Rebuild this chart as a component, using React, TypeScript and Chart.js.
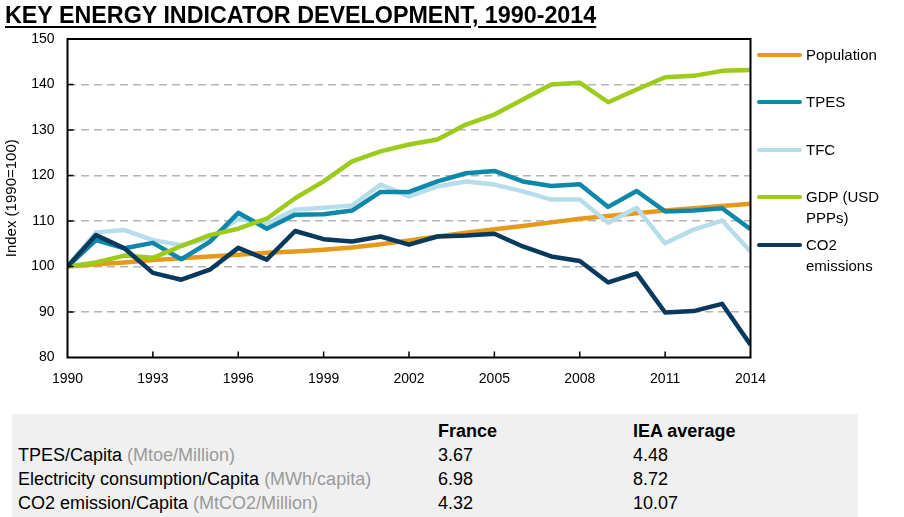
import React, { useEffect, useRef } from "react";
import { Chart, registerables } from "chart.js";

Chart.register(...registerables);

const years = [1990, 1991, 1992, 1993, 1994, 1995, 1996, 1997, 1998, 1999, 2000, 2001, 2002, 2003, 2004, 2005, 2006, 2007, 2008, 2009, 2010, 2011, 2012, 2013, 2014];

const population = [100, 100.5, 100.9, 101.4, 101.8, 102.2, 102.6, 103.0, 103.3, 103.7, 104.2, 104.9, 105.7, 106.6, 107.4, 108.2, 108.9, 109.7, 110.5, 111.1, 111.7, 112.3, 112.8, 113.3, 113.8];
const tpes = [100, 105.8, 104.0, 105.2, 101.6, 105.4, 111.8, 108.3, 111.4, 111.5, 112.3, 116.4, 116.4, 118.7, 120.5, 121.0, 118.7, 117.7, 118.1, 113.1, 116.6, 112.1, 112.3, 112.8, 108.2];
const tfc = [100, 107.5, 108.0, 105.8, 104.7, 106.2, 110.5, 109.4, 112.5, 112.9, 113.4, 118.0, 115.4, 117.6, 118.7, 118.0, 116.5, 114.7, 114.7, 109.6, 112.9, 105.1, 108.1, 110.1, 103.3];
const gdp = [100, 100.9, 102.4, 101.9, 104.5, 106.9, 108.3, 110.5, 115.0, 118.7, 123.1, 125.3, 126.8, 127.9, 131.2, 133.4, 136.7, 140.0, 140.4, 136.1, 138.9, 141.6, 141.9, 143.0, 143.2];
const co2 = [100, 106.9, 104.0, 98.6, 97.1, 99.3, 104.1, 101.5, 107.8, 106.0, 105.5, 106.6, 104.8, 106.6, 106.8, 107.2, 104.4, 102.2, 101.2, 96.5, 98.5, 89.9, 90.2, 91.8, 82.8];

const seriesNames = ["Population", "TPES", "TFC", "GDP (USD\nPPPs)", "CO2\nemissions"];
const seriesValues = [population, tpes, tfc, gdp, co2];
const seriesColors = ["#E59A1B", "#0E88A8", "#B7DDEA", "#9CCB19", "#083A5E"];
const seriesOrder = [4, 2, 3, 1, 0];

const xTickStart = 1990;
const xTickEnd = 2014;
const xTickStep = 3;
const yTickMin = 80;
const yTickMax = 150;
const yTickStep = 10;

const yAxisTitle = "Index (1990=100)";
const chartTitle = "KEY ENERGY INDICATOR DEVELOPMENT, 1990-2014";

const tableHeaders = ["France", "IEA average"];
const tableIndicators = ["TPES/Capita", "Electricity consumption/Capita", "CO2 emission/Capita"];
const tableUnits = ["(Mtoe/Million)", "(MWh/capita)", "(MtCO2/Million)"];
const franceValues = ["3.67", "6.98", "4.32"];
const ieaValues = ["4.48", "8.72", "10.07"];

const legendY = [55, 102, 150, 197, 245];
const tableColX = [438, 633];
const tableHeaderY = 431;
const tableRowY = [454.6, 478.8, 503.1];

const FONT = "'Liberation Sans', Arial, Helvetica, sans-serif";

const framePlugin = {
  id: "frame",
  afterDraw(chart: any) {
    const { ctx, chartArea: a, scales } = chart;
    ctx.save();
    ctx.strokeStyle = "#000";
    ctx.lineWidth = 1.5;
    ctx.beginPath();
    for (const t of scales.y.ticks) {
      if (t.value > scales.y.min && t.value < scales.y.max) {
        const y = scales.y.getPixelForValue(t.value);
        ctx.moveTo(a.left, y);
        ctx.lineTo(a.left + 6, y);
      }
    }
    for (const t of scales.x.ticks) {
      if (t.value > scales.x.min && t.value < scales.x.max) {
        const x = scales.x.getPixelForValue(t.value);
        ctx.moveTo(x, a.bottom);
        ctx.lineTo(x, a.bottom - 6);
      }
    }
    ctx.stroke();
    ctx.lineWidth = 2;
    ctx.strokeRect(a.left, a.top, a.right - a.left, a.bottom - a.top);
    ctx.restore();
  },
};

export default function App() {
  const canvasRef = useRef<HTMLCanvasElement | null>(null);

  useEffect(() => {
    if (!canvasRef.current) return;
    const chart = new Chart(canvasRef.current, {
      type: "line",
      data: {
        datasets: seriesNames.map((name, i) => ({
          label: name,
          data: years.map((yr, j) => ({ x: yr, y: seriesValues[i][j] })),
          borderColor: seriesColors[i],
          backgroundColor: seriesColors[i],
          borderWidth: 4.5,
          pointRadius: 0,
          tension: 0,
          borderJoinStyle: "round" as const,
          order: seriesOrder[i],
        })),
      },
      options: {
        responsive: false,
        animation: false,
        events: [],
        layout: { padding: { top: 39, right: 153.5, left: 0, bottom: 0 } },
        plugins: { legend: { display: false }, tooltip: { enabled: false }, title: { display: false } },
        scales: {
          x: {
            type: "linear",
            min: xTickStart,
            max: xTickEnd,
            afterFit: (s: any) => { s.height = 42.5; },
            afterBuildTicks: (s: any) => {
              const t = [];
              for (let v = xTickStart; v <= xTickEnd; v += xTickStep) t.push({ value: v });
              s.ticks = t;
            },
            ticks: {
              callback: (v: any) => String(v),
              font: { family: FONT, size: 14 },
              color: "#000",
              padding: 13,
              maxRotation: 0,
              autoSkip: false,
            },
            grid: { display: false, drawTicks: false },
            border: { display: false },
          },
          y: {
            min: yTickMin,
            max: yTickMax,
            afterFit: (s: any) => { s.width = 67.5; },
            ticks: {
              stepSize: yTickStep,
              font: { family: FONT, size: 14 },
              color: "#000",
              padding: 13,
            },
            grid: {
              drawTicks: false,
              lineWidth: 1.5,
              color: (c: any) => (c.tick && (c.tick.value === yTickMin || c.tick.value === yTickMax) ? "rgba(0,0,0,0)" : "#b4b4b4"),
            },
            border: { display: false, dash: [8, 5] },
            title: {
              display: true,
              text: yAxisTitle,
              font: { family: FONT, size: 15 },
              color: "#000",
              padding: { top: 3, bottom: 0 },
            },
          },
        },
      },
      plugins: [framePlugin],
    } as any);
    return () => chart.destroy();
  }, []);

  const cell = (top: number, left: number, extra: any = {}) => ({
    position: "absolute" as const,
    left,
    top: top - 10,
    fontSize: 18,
    lineHeight: "20px",
    whiteSpace: "nowrap" as const,
    ...extra,
  });

  return (
    <div style={{ position: "absolute", left: 0, top: 0, width: 904, height: 517, fontFamily: FONT, color: "#000", background: "#fff", overflow: "hidden" }}>
      <canvas ref={canvasRef} width={904} height={400} style={{ position: "absolute", left: 0, top: 0, width: 904, height: 400 }} />
      <div style={{ position: "absolute", left: 5, top: 4, fontSize: 23.3, lineHeight: "22.5px", fontWeight: "bold", whiteSpace: "nowrap", textDecoration: "underline", textDecorationThickness: "2px", textUnderlineOffset: "3px" }}>
        {chartTitle}
      </div>
      {seriesNames.map((name, i) => (
        <React.Fragment key={name}>
          <div style={{ position: "absolute", left: 757, top: legendY[i] - 2.25, width: 45, height: 4.5, borderRadius: 2.25, background: seriesColors[i] }} />
          <div style={{ position: "absolute", left: 806, top: legendY[i] - 10, fontSize: 15, lineHeight: "20.5px", whiteSpace: "pre" }}>{name}</div>
        </React.Fragment>
      ))}
      <div style={{ position: "absolute", left: 12, top: 414, width: 846, height: 103, background: "#f0f0f0" }} />
      {tableHeaders.map((h, i) => (
        <div key={h} style={cell(tableHeaderY, tableColX[i], { fontWeight: "bold" })}>{h}</div>
      ))}
      {tableIndicators.map((ind, r) => (
        <React.Fragment key={ind}>
          <div style={cell(tableRowY[r], 18)}>
            {ind} <span style={{ color: "#9a9a9a" }}>{tableUnits[r]}</span>
          </div>
          <div style={cell(tableRowY[r], tableColX[0])}>{franceValues[r]}</div>
          <div style={cell(tableRowY[r], tableColX[1])}>{ieaValues[r]}</div>
        </React.Fragment>
      ))}
    </div>
  );
}
